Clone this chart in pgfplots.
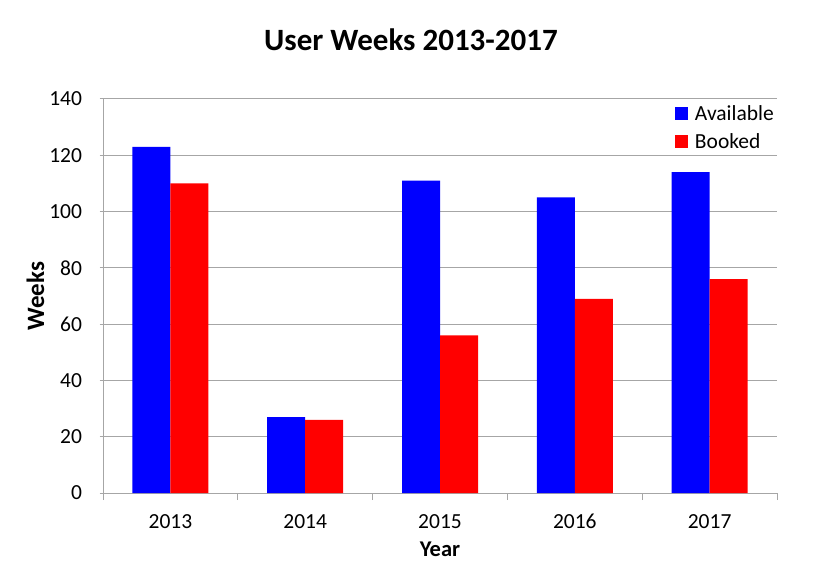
\documentclass[border=0pt]{standalone}
\usepackage{pgfplots}
\pgfplotsset{compat=1.18}
\usepackage{fontspec}
\setmainfont{Carlito}
\definecolor{gridc}{HTML}{A6A6A6}
\begin{document}
\begin{tikzpicture}[x=1pt,y=1pt]
\path[use as bounding box] (0,0) rectangle (830,587);
\begin{axis}[
  at={(103pt,94pt)}, anchor=south west,
  scale only axis, width=674pt, height=394pt,
  ymin=0, ymax=140, ytick={0,20,...,140},
  xmin=-0.5, xmax=4.5,
  xtick={0,1,2,3,4}, xticklabels={2013,2014,2015,2016,2017},
  minor xtick={-0.5,0.5,1.5,2.5,3.5,4.5},
  major x tick style={draw=none},
  minor x tick style={draw=gridc, line width=1pt},
  y tick style={draw=gridc, line width=1pt},
  tick align=outside,
  major tick length=7pt, minor tick length=7pt,
  axis x line=bottom, axis y line=left,
  axis line style={draw=gridc, line width=1pt, -},
  ymajorgrids, grid style={draw=gridc, line width=1pt},
  ybar=0pt, bar width=38pt,
  tick label style={font=\fontsize{21.5}{24}\selectfont},
  /pgf/number format/assume math mode=true,
  xticklabel style={yshift=-18pt, text height=1.4ex, text depth=0pt},
  yticklabel style={xshift=-14pt},
  title={\bfseries User Weeks 2013-2017},
  title style={font=\fontsize{31}{36}\selectfont, yshift=39pt, xshift=-29pt},
  xlabel={\bfseries Year},
  ylabel={\bfseries Weeks},
  xlabel style={font=\fontsize{22.5}{26}\selectfont, yshift=-7pt},
  ylabel style={font=\fontsize{25}{30}\selectfont, yshift=-2pt},
  legend style={at={(1,1)}, anchor=north east, draw=none, fill=none,
    font=\fontsize{21.5}{25}\selectfont, row sep=8pt, xshift=2pt, yshift=-2pt},
  legend cell align=left,
  legend image code/.code={\fill[#1] (0pt,-6.5pt) rectangle (13pt,6.5pt);},
]
\addplot[draw=none, fill={rgb,255:red,0;green,0;blue,255}] coordinates {(0,123) (1,27) (2,111) (3,105) (4,114)};
\addplot[draw=none, fill={rgb,255:red,255;green,0;blue,0}] coordinates {(0,110) (1,26) (2,56) (3,69) (4,76)};
\legend{\hspace{5pt}Available,\hspace{5pt}Booked}
\end{axis}
\end{tikzpicture}
\end{document}
